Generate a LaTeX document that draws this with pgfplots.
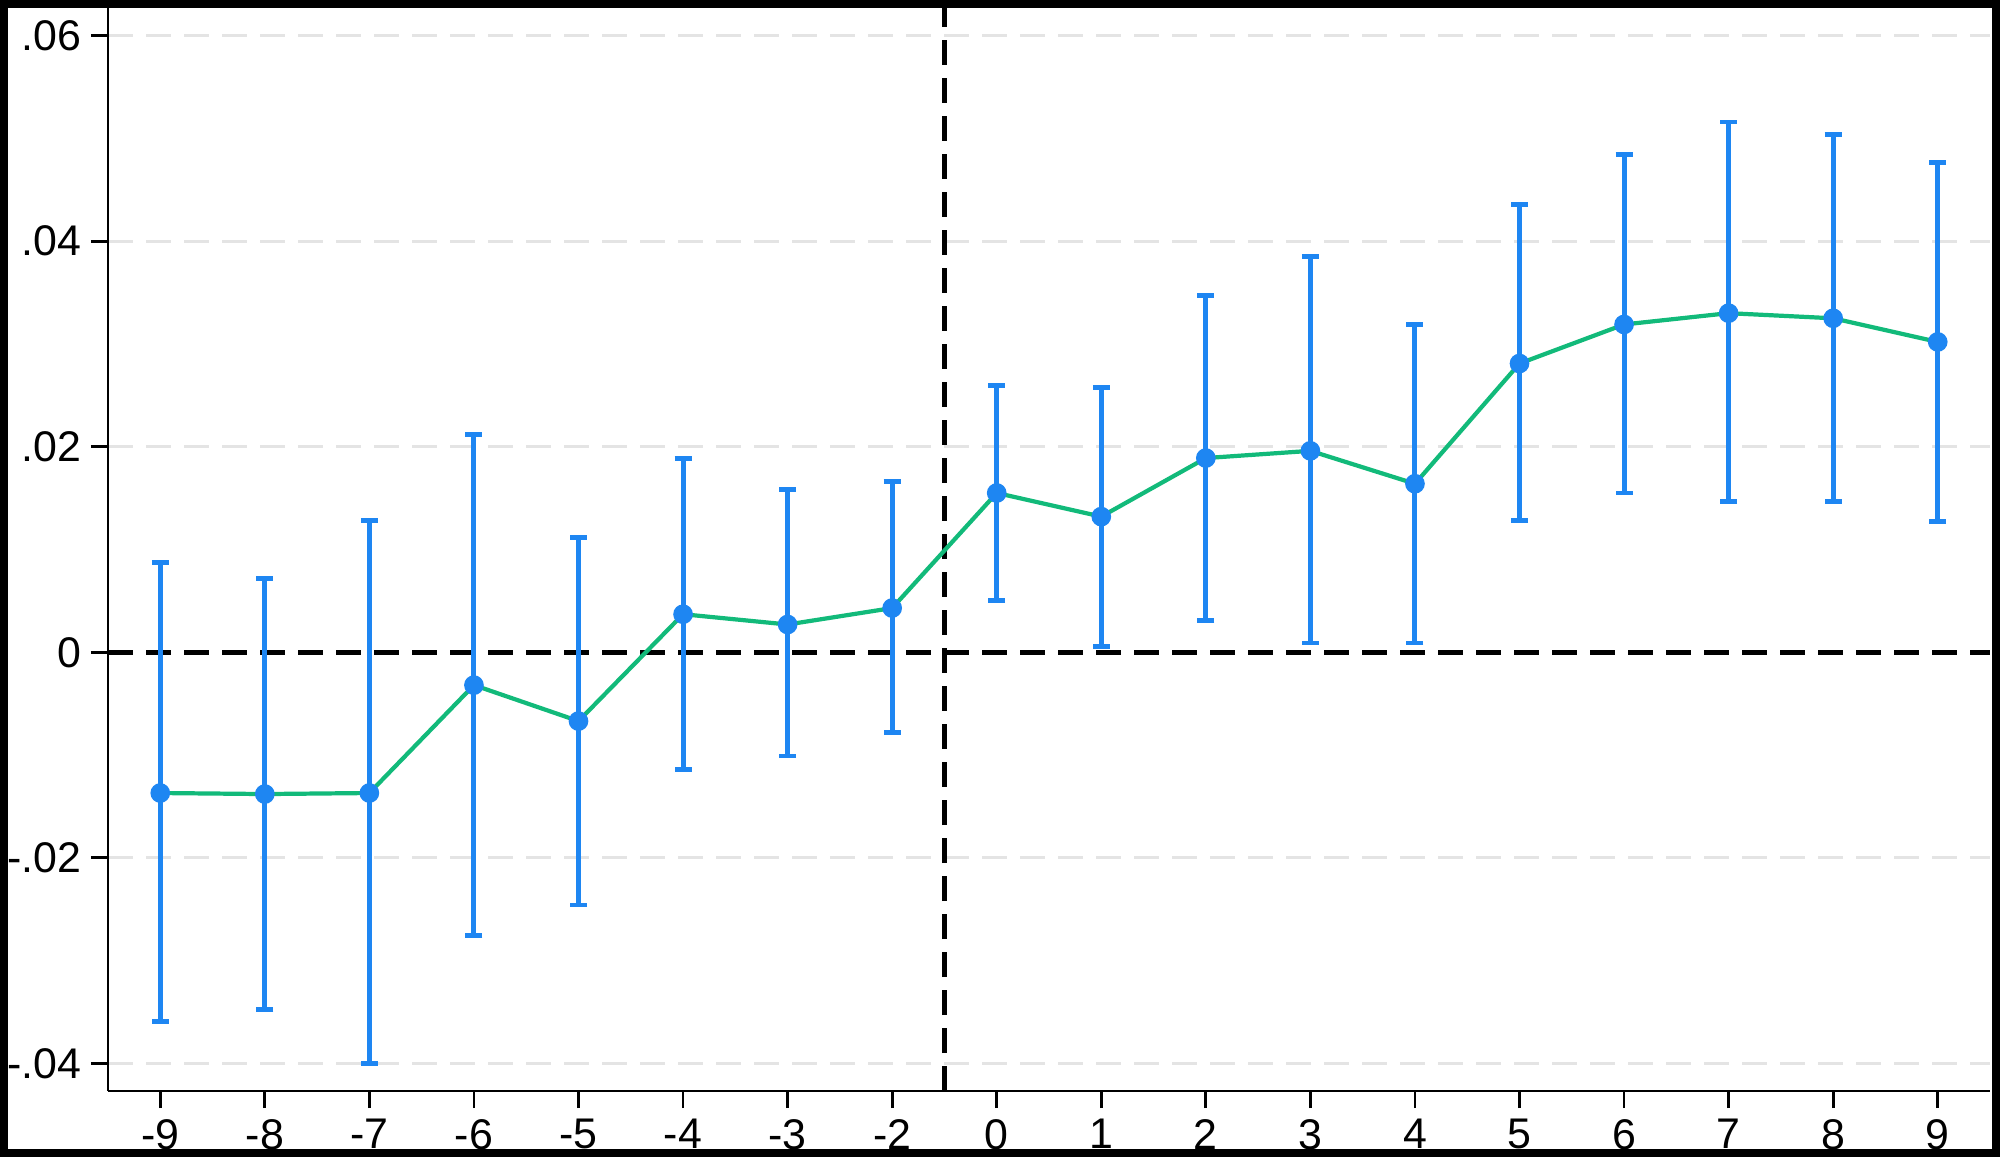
\documentclass[border=0pt]{standalone}
\usepackage{fontspec}
\setmainfont{Liberation Sans}
\usepackage{pgfplots}
\usepackage{pgfplotstable}
\pgfplotsset{compat=1.18}

\definecolor{ciblue}{RGB}{30,134,242}
\definecolor{lgreen}{RGB}{18,186,122}
\definecolor{gridgray}{RGB}{228,228,228}

% event time index, estimate, lower CI, upper CI
\pgfplotstableread{
x  y       lo       hi
0  -0.0137 -0.0359  0.0087
1  -0.0138 -0.0348  0.0072
2  -0.0137 -0.0400  0.0128
3  -0.0032 -0.0276  0.0212
4  -0.0067 -0.0246  0.0112
5   0.0037 -0.0114  0.0189
6   0.0027 -0.0101  0.0158
7   0.0043 -0.0078  0.0166
8   0.0155  0.0050  0.0260
9   0.0132  0.0006  0.0258
10  0.0189  0.0031  0.0347
11  0.0196  0.0009  0.0385
12  0.0164  0.0009  0.0319
13  0.0281  0.0128  0.0436
14  0.0319  0.0155  0.0484
15  0.0330  0.0147  0.0516
16  0.0325  0.0147  0.0504
17  0.0302  0.0127  0.0477
}\est

\begin{document}
\begin{tikzpicture}
  \begin{axis}[
    at={(0,0)}, anchor=south west,
    scale only axis,
    width=18.82cm, height=10.83cm,
    xmin=-0.5, xmax=17.5,
    ymin=-0.0427, ymax=0.0627,
    axis lines*=left,
    axis line style={black, line width=0.8pt},
    tick align=outside,
    major tick length=0.17cm,
    tick style={black, line width=0.8pt},
    xtick={0,...,17},
    xticklabels={-9,-8,-7,-6,-5,-4,-3,-2,0,1,2,3,4,5,6,7,8,9},
    ytick={-0.04,-0.02,0,0.02,0.04,0.06},
    yticklabels={-.04,-.02,0,.02,.04,.06},
    tick label style={font=\fontsize{12.2}{14}\selectfont},
    xticklabel style={inner sep=2.6pt, yshift=-0.015cm},
    yticklabel style={inner sep=2.6pt},
    ymajorgrids,
    major grid style={gridgray, line width=0.8pt, dash pattern=on 0.25cm off 0.13cm},
    clip=false,
  ]
    % reference lines
    \addplot[black, line width=1.3pt, dash pattern=on 0.25cm off 0.13cm]
      coordinates {(-0.5,0) (17.5,0)};
    \addplot[black, line width=1.3pt, dash pattern=on 0.25cm off 0.13cm]
      coordinates {(7.5,-0.0427) (7.5,0.0627)};
    % confidence intervals
    \addplot[draw=none, mark=none,
      error bars/.cd, y dir=both, y explicit,
      error mark=|,
      error bar style={ciblue, line width=1.4pt},
      error mark options={ciblue, line width=1.4pt, mark size=0.085cm}]
      table[x=x, y=y, y error plus expr=\thisrow{hi}-\thisrow{y},
            y error minus expr=\thisrow{y}-\thisrow{lo}] {\est};
    % point estimates
    \addplot[only marks, mark=*, mark size=2.6pt, ciblue,
      mark options={fill=ciblue, draw=ciblue}]
      table[x=x, y=y] {\est};
    \addplot[lgreen, line width=1.2pt, mark=none]
      table[x=x, y=y] {\est};
  \end{axis}
  \pgfresetboundingbox
  \useasboundingbox (-1.08,-0.66) rectangle (18.92,10.91);
  \draw[black, line width=0.08cm] (-1.04,-0.62) rectangle (18.88,10.87);
\end{tikzpicture}
\end{document}
